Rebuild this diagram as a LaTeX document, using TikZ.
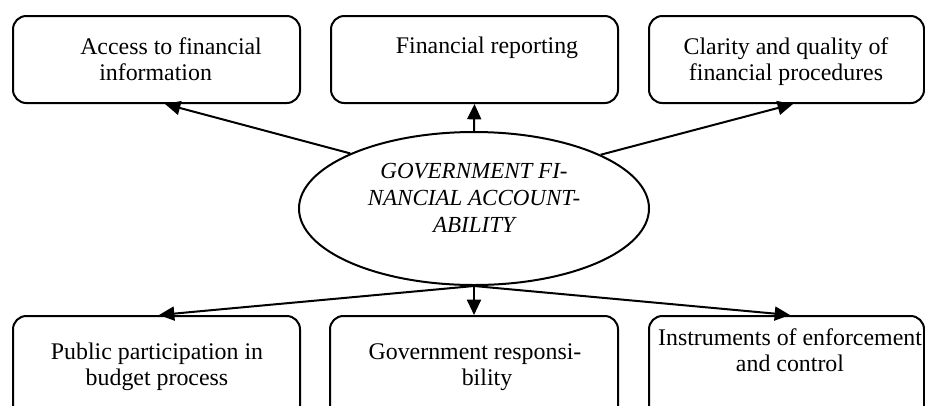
\documentclass[tikz,border=0pt]{standalone}
\usepackage{fontspec}
\setmainfont{Liberation Serif}
\usetikzlibrary{arrows.meta,shapes.geometric,calc}
\begin{document}
\begin{tikzpicture}[x=0.75pt,y=-0.75pt,
  box/.style={draw,line width=1.5pt,rounded corners=10pt,inner sep=0pt},
  txt/.style={inner sep=0pt,font=\fontsize{17.9pt}{19.5pt}\selectfont},
  arr/.style={line width=1.5pt,-{Triangle[length=11.5pt,width=10.5pt]}}]
\useasboundingbox (0,0) rectangle (925,405);
\clip (0,0) rectangle (925,405);
% top boxes
\node[box,minimum width=215.25pt,minimum height=65.25pt] (t1) at (156.5,59.5) {};
\node[box,minimum width=215.25pt,minimum height=65.25pt] (t2) at (474.5,59.5) {};
\node[box,minimum width=206.25pt,minimum height=65.25pt] (t3) at (786.5,59.5) {};
% bottom boxes
\node[box,minimum width=215.25pt,minimum height=93pt] (b1) at (156.5,378) {};
\node[box,minimum width=216pt,minimum height=93pt] (b2) at (474,378) {};
\node[box,minimum width=206.25pt,minimum height=93pt] (b3) at (786.5,378) {};
% ellipse
\node[draw,ellipse,line width=1.5pt,inner sep=0pt,minimum width=262.5pt,minimum height=114.75pt] (E) at (474,208.5) {};
% texts (base anchor = baseline of the last line)
\node[txt,align=left,anchor=base west] (t1txt) at (80,80) {Access to financial\\\hspace*{14.25pt}information};
\node[txt,anchor=base] (t2txt) at (487,53) {Financial reporting};
\node[txt,align=center,anchor=base] (t3txt) at (786,80) {Clarity and quality of\\financial procedures};
\node[txt,align=center,anchor=base] (b1txt) at (157,385) {Public participation in\\budget process};
\node[txt,align=center,anchor=base] (b2txt) at (475,385) {Government responsi-\\\hspace*{18pt}bility};
\node[txt,align=center,anchor=base] (b3txt) at (790,371) {Instruments of enforcement\\and control};
\node[txt,align=center,anchor=base,font=\fontsize{17.25pt}{20pt}\selectfont\itshape] (Etxt) at (474,232) {GOVERNMENT FI-\\NANCIAL ACCOUNT-\\ABILITY};
% connectors
\draw[arr] (E.156) -- ($(t1.south)+(8.5,0)$);
\draw[arr] (E.north) -- (t2.south);
\draw[arr] (E.23.5) -- ($(t3.south)+(6.5,0)$);
\draw[arr] (E.south) -- ($(b1.north)+(2.5,0)$);
\draw[arr] (E.south) -- (b2.north);
\draw[arr] (E.south) -- ($(b3.north)+(3.5,0)$);
\end{tikzpicture}
\end{document}
